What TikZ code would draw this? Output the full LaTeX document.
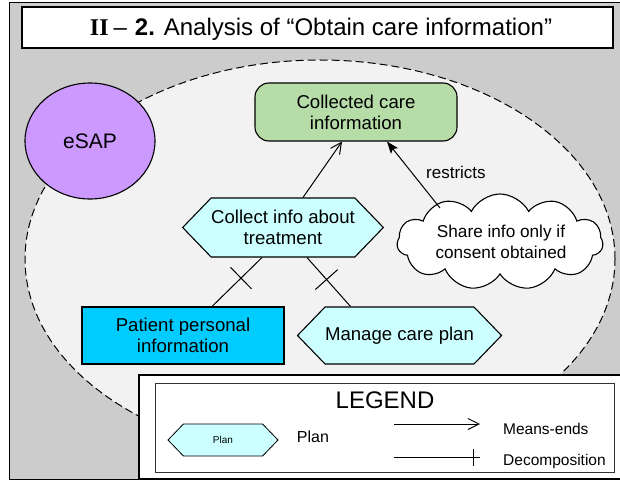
\documentclass[tikz,border=0pt]{standalone}
\usepackage{fontspec}
\setmainfont{Liberation Sans}
\newfontfamily\titleserif{Liberation Serif}
\usetikzlibrary{shapes.symbols,shapes.geometric,arrows.meta,decorations.markings}
\definecolor{framegray}{HTML}{CCCCCC}
\definecolor{ellfill}{HTML}{F2F2F2}
\definecolor{esapcol}{HTML}{CC99FF}
\definecolor{goalgreen}{HTML}{B6DCA8}
\definecolor{plancol}{HTML}{CCFFFF}
\definecolor{rescol}{HTML}{00CCFF}
\newcommand\fsz[2]{\fontsize{#1pt}{#2pt}\selectfont}
\begin{document}
\begin{tikzpicture}[x=1pt,y=-1pt,
  box/.style={draw=black, line width=1.1pt, align=center, inner sep=0pt, font=\fsz{18.6}{21}},
  hexa/.style={box, signal, signal to=west and east, signal pointer angle=92, fill=plancol},
  meansend/.style={line width=1pt, -{Straight Barb[length=11pt,width=11pt]}},
  restr/.style={line width=1pt, -{Stealth[length=12pt,width=9pt,inset=2.5pt]}},
  decomp/.style={line width=1pt, decoration={markings, mark=at position #1 with {\draw[line width=1pt] (0pt,-15pt) -- (0pt,15pt);}}, postaction=decorate},
  legdecomp/.style={line width=1pt, decoration={markings, mark=at position 0.92 with {\draw[line width=1pt] (0pt,-8.5pt) -- (0pt,8.5pt);}}, postaction=decorate},
  lbl/.style={font=\fsz{15.5}{18}, inner sep=0pt}
]
\useasboundingbox (0,0) rectangle (620,481);
\clip (0,0) rectangle (620,481);
% frame
\draw[fill=framegray, line width=1pt] (9,3) rectangle (640,479);
% title
\draw[fill=white, line width=1.5pt] (22,7) rectangle (613,48);
\node[anchor=base, inner sep=0pt, font=\fsz{24}{28}] (title) at (321,36)
  {{\titleserif\bfseries II}\hspace{5pt}–\hspace{8pt}\textbf{2.} Analysis of “Obtain care information”};
% actor boundary
\draw[fill=ellfill, dash pattern=on 8pt off 4pt, line width=1pt] (320,259) ellipse [x radius=295pt, y radius=199pt];
\node[ellipse, draw=black, line width=1.1pt, fill=esapcol, minimum width=130pt, minimum height=116pt, inner sep=0pt, font=\fsz{21}{24}] (esap) at (90,141) {eSAP};
% elements
\node[box, fill=goalgreen, rounded corners=14pt, minimum width=202pt, minimum height=58pt] (collected) at (356,112) {Collected care\\information};
\node[hexa, minimum width=200pt, minimum height=59pt] (collect) at (283,227.5) {Collect info about\\treatment};
\node[cloud, cloud puffs=11, cloud puff arc=125, cloud ignores aspect, draw=black, line width=1.1pt, fill=white, minimum width=206pt, minimum height=96pt, inner sep=0pt] (share) at (500,242) {};
\node[align=center, inner sep=0pt, font=\fsz{17.2}{20.5}] (sharetxt) at (501,242) {Share info only if\\consent obtained};
\node[box, fill=rescol, minimum width=202pt, minimum height=57pt] (patient) at (183,335.5) {Patient personal\\information};
\node[hexa, minimum width=203pt, minimum height=57pt] (manage) at (399.5,335.5) {Manage care plan};
% links
\draw[meansend] ([xshift=20pt]collect.north) -- ([xshift=-14pt]collected.south);
\draw[restr] ([xshift=-60pt,yshift=34pt]share.center) -- ([xshift=31pt]collected.south);
\node[anchor=base west, inner sep=0pt, font=\fsz{17}{20}] (restrlbl) at (426,178) {restricts};
\draw[decomp=0.42] ([xshift=-21pt]collect.south) -- ([xshift=29pt]patient.north);
\draw[decomp=0.45] ([xshift=24pt]collect.south) -- ([xshift=-49pt]manage.north);
% legend
\draw[fill=white, line width=1.2pt] (139,375) rectangle (640,479);
\draw[draw=black!80, line width=1pt] (155,383) rectangle (614,472);
\node[anchor=base, inner sep=0pt, font=\fsz{24}{28}] (legend) at (385,408) {LEGEND};
\node[hexa, line width=0.8pt, minimum width=110pt, minimum height=32pt, font=\fsz{10}{12}] (lplan) at (223,440) {Plan};
\node[lbl, anchor=base, font=\fsz{16}{18}] (lplanlbl) at (313,442) {Plan};
\coordinate (mea) at (394,424);
\coordinate (meb) at (480,424);
\draw[meansend] (mea) -- (meb);
\node[lbl, anchor=base west] (melbl) at (503,434) {Means-ends};
\coordinate (dca) at (394,457);
\coordinate (dcb) at (480,457);
\draw[legdecomp] (dca) -- (dcb);
\node[lbl, anchor=base west] (dclbl) at (503,465) {Decomposition};
\end{tikzpicture}
\end{document}
